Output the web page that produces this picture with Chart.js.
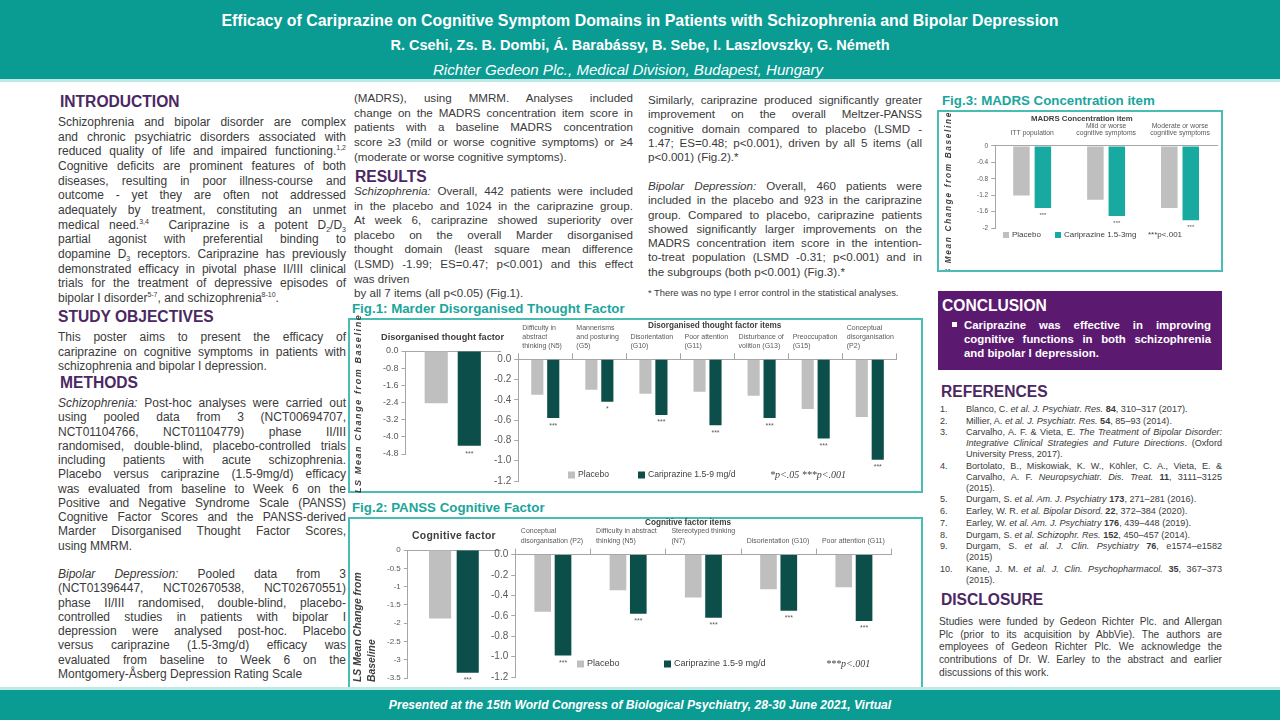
<!DOCTYPE html>
<html>
<head>
<meta charset="utf-8">
<script src="https://cdn.jsdelivr.net/npm/chart.js@4.4.1/dist/chart.umd.min.js"></script>
<style>
  body { margin: 0; width: 1280px; height: 720px; overflow: hidden; background: #fff;
         font-family: "Liberation Sans", Arial, sans-serif; color: #3a3a3a; position: relative; }
  .a { position: absolute; }
  .hdr { left: 0; top: 0; width: 1280px; height: 79px; background: #0a9b93; color: #fff; text-align: center; }
  .hdr div { position: absolute; left: 0; width: 1280px; white-space: nowrap; }
  .ftr { left: 0; top: 690px; width: 1280px; height: 30px; background: #0a9b93; color: #fff; text-align: center;
         font: italic bold 12.1px/30px "Liberation Sans", Arial, sans-serif; }
  h2 { position: absolute; margin: 0; font-size: 15.6px; line-height: 20px; color: #4b2863; font-weight: bold; }
  .txt { position: absolute; font-size: 11.6px; line-height: 14.5px; }
  .txt div { text-align: justify; text-align-last: justify; }
  .txt div.l { text-align: left; text-align-last: left; }
  sup, sub { font-size: 7px; line-height: 0; }
  .figt { position: absolute; font-size: 13.3px; font-weight: bold; color: #1ba59c; line-height: 16px; white-space: nowrap; }
  .box { position: absolute; border: 2px solid #49bdb3; box-sizing: border-box; }
  canvas { position: absolute; }
  .ct { position: absolute; font-weight: bold; color: #404040; white-space: nowrap; z-index: 2; }
  .yt { position: absolute; transform: rotate(-90deg); font-weight: bold; font-style: italic; color: #404040;
        white-space: nowrap; z-index: 2; }
  .refs { position: absolute; left: 940px; top: 404px; width: 282px; font-size: 9.1px; line-height: 10.9px; }
  .refs > div { display: flex; margin-bottom: 0.8px; }
  .refs span.n { width: 26px; flex: none; }
  .refs span.r { flex: 1; }
  .refs span.r div { text-align: justify; text-align-last: justify; }
  .refs span.r div.l { text-align: left; text-align-last: left; }
</style>
</head>
<body>

<div class="a hdr">
  <div style="top:11px;font:bold 15.9px/20px 'Liberation Sans',Arial,sans-serif;">Efficacy of Cariprazine on Cognitive Symptom Domains in Patients with Schizophrenia and Bipolar Depression</div>
  <div style="top:36px;font:bold 14.5px/18px 'Liberation Sans',Arial,sans-serif;">R. Csehi, Zs. B. Dombi, Á. Barabássy, B. Sebe, I. Laszlovszky, G. Németh</div>
  <div style="top:61px;left:-12px;font:italic 15.1px/18px 'Liberation Sans',Arial,sans-serif;">Richter Gedeon Plc., Medical Division, Budapest, Hungary</div>
</div>
<div class="a" style="left:0;top:79px;width:1280px;height:3px;background:#bfe9e5;"></div>

<!-- column 1 -->
<h2 style="left:60px;top:92px;">INTRODUCTION</h2>
<div class="txt" style="left:58px;top:115px;width:288px;font-size:12px;line-height:14.65px;">
  <div>Schizophrenia and bipolar disorder are complex</div>
  <div>and chronic psychiatric disorders associated with</div>
  <div>reduced quality of life and impaired functioning.<sup>1,2</sup></div>
  <div>Cognitive deficits are prominent features of both</div>
  <div>diseases, resulting in poor illness-course and</div>
  <div>outcome - yet they are often not addressed</div>
  <div>adequately by treatment, constituting an unmet</div>
  <div>medical need.<sup>3,4</sup>&nbsp; Cariprazine is a potent D<sub>2</sub>/D<sub>3</sub></div>
  <div>partial agonist with preferential binding to</div>
  <div>dopamine D<sub>3</sub> receptors. Cariprazine has previously</div>
  <div>demonstrated efficacy in pivotal phase II/III clinical</div>
  <div>trials for the treatment of depressive episodes of</div>
  <div class="l">bipolar I disorder<sup>5-7</sup>, and schizophrenia<sup>8-10</sup>.</div>
</div>
<h2 style="left:58px;top:307px;">STUDY OBJECTIVES</h2>
<div class="txt" style="left:58px;top:330px;width:288px;font-size:12px;">
  <div>This poster aims to present the efficacy of</div>
  <div>cariprazine on cognitive symptoms in patients with</div>
  <div class="l">schizophrenia and bipolar I depression.</div>
</div>
<h2 style="left:60px;top:373px;">METHODS</h2>
<div class="txt" style="left:58px;top:396px;width:288px;font-size:12px;line-height:14.25px;">
  <div><i>Schizophrenia:</i> Post-hoc analyses were carried out</div>
  <div>using pooled data from 3 (NCT00694707,</div>
  <div>NCT01104766, NCT01104779) phase II/III</div>
  <div>randomised, double-blind, placebo-controlled trials</div>
  <div>including patients with acute schizophrenia.</div>
  <div>Placebo versus cariprazine (1.5-9mg/d) efficacy</div>
  <div>was evaluated from baseline to Week 6 on the</div>
  <div>Positive and Negative Syndrome Scale (PANSS)</div>
  <div>Cognitive Factor Scores and the PANSS-derived</div>
  <div>Marder Disorganised Thought Factor Scores,</div>
  <div class="l">using MMRM.</div>
</div>
<div class="txt" style="left:58px;top:567px;width:288px;font-size:12px;line-height:14.3px;">
  <div><i>Bipolar Depression:</i> Pooled data from 3</div>
  <div>(NCT01396447, NCT02670538, NCT02670551)</div>
  <div>phase II/III randomised, double-blind, placebo-</div>
  <div>controlled studies in patients with bipolar I</div>
  <div>depression were analysed post-hoc. Placebo</div>
  <div>versus cariprazine (1.5-3mg/d) efficacy was</div>
  <div>evaluated from baseline to Week 6 on the</div>
  <div class="l">Montgomery-Åsberg Depression Rating Scale</div>
</div>

<!-- column 2 -->
<div class="txt" style="left:354px;top:91px;width:279px;line-height:14.7px;">
  <div>(MADRS), using MMRM. Analyses included</div>
  <div>change on the MADRS concentration item score in</div>
  <div>patients with a baseline MADRS concentration</div>
  <div>score ≥3 (mild or worse cognitive symptoms) or ≥4</div>
  <div class="l">(moderate or worse cognitive symptoms).</div>
</div>
<h2 style="left:355px;top:167px;">RESULTS</h2>
<div class="txt" style="left:354px;top:184px;width:279px;line-height:14.6px;">
  <div><i>Schizophrenia:</i> Overall, 442 patients were included</div>
  <div>in the placebo and 1024 in the cariprazine group.</div>
  <div>At week 6, cariprazine showed superiority over</div>
  <div>placebo on the overall Marder disorganised</div>
  <div>thought domain (least square mean difference</div>
  <div>(LSMD) -1.99; ES=0.47; p&lt;0.001) and this effect</div>
  <div class="l">was driven</div>
  <div class="l">by all 7 items (all p&lt;0.05) (Fig.1).</div>
</div>

<!-- column 3 -->
<div class="txt" style="left:648px;top:93px;width:274px;line-height:14.3px;">
  <div>Similarly, cariprazine produced significantly greater</div>
  <div>improvement on the overall Meltzer-PANSS</div>
  <div>cognitive domain compared to placebo (LSMD -</div>
  <div>1.47; ES=0.48; p&lt;0.001), driven by all 5 items (all</div>
  <div class="l">p&lt;0.001) (Fig.2).*</div>
</div>
<div class="txt" style="left:648px;top:179px;width:274px;line-height:14.3px;">
  <div><i>Bipolar Depression:</i> Overall, 460 patients were</div>
  <div>included in the placebo and 923 in the cariprazine</div>
  <div>group. Compared to placebo, cariprazine patients</div>
  <div>showed significantly larger improvements on the</div>
  <div>MADRS concentration item score in the intention-</div>
  <div>to-treat population (LSMD -0.31; p&lt;0.001) and in</div>
  <div class="l">the subgroups (both p&lt;0.001) (Fig.3).*</div>
</div>
<div class="a" style="left:648px;top:287px;font-size:9.4px;line-height:12px;white-space:nowrap;">* There was no type I error control in the statistical analyses.</div>

<!-- Fig 1 -->
<div class="figt" style="left:352px;top:301px;">Fig.1: Marder Disorganised Thought Factor</div>
<div class="box" style="left:348px;top:318px;width:575px;height:175px;"></div>
<canvas id="f1a" width="152" height="170" style="left:352px;top:320px;"></canvas>
<canvas id="f1b" width="442" height="170" style="left:478px;top:320px;"></canvas>
<div class="yt" style="left:273px;top:402px;width:170px;height:12px;line-height:12px;font-size:9px;letter-spacing:1.6px;text-align:center;">LS Mean Change from Baseline</div>
<div class="ct" style="left:381px;top:332px;font-size:9.2px;">Disorganised thought factor</div>
<div class="ct" style="left:648px;top:321px;font-size:8.2px;">Disorganised thought factor items</div>

<!-- Fig 2 -->
<div class="figt" style="left:352px;top:500px;">Fig.2: PANSS Cognitive Factor</div>
<div class="box" style="left:348px;top:517px;width:575px;height:172px;"></div>
<canvas id="f2a" width="152" height="167" style="left:352px;top:519px;"></canvas>
<canvas id="f2b" width="442" height="167" style="left:478px;top:519px;"></canvas>
<div class="yt" style="left:295px;top:598px;width:140px;height:28px;line-height:14px;font-size:10.4px;text-align:left;">LS Mean Change from<br>Baseline</div>
<div class="ct" style="left:412px;top:530px;font-size:10.4px;letter-spacing:0.3px;">Cognitive factor</div>
<div class="ct" style="left:645px;top:518px;font-size:8.2px;">Cognitive factor items</div>

<!-- Fig 3 -->
<div class="figt" style="left:942px;top:93px;">Fig.3: MADRS Concentration item</div>
<div class="box" style="left:937px;top:110px;width:286px;height:162px;overflow:hidden;">
  <div class="yt" style="left:-80px;top:73px;width:180px;height:12px;line-height:12px;font-size:8.2px;letter-spacing:1.7px;text-align:left;">LS Mean Change from Baseline</div>
</div>
<canvas id="f3" width="280" height="156" style="left:940px;top:112px;"></canvas>
<div class="ct" style="left:1031px;top:114px;font-size:7.8px;">MADRS Concentration item</div>

<!-- conclusion -->
<div class="a" style="left:938px;top:291px;width:284px;height:79px;background:#5b1a70;color:#fff;">
  <div class="a" style="left:4px;top:5px;font:bold 15.6px/20px 'Liberation Sans',Arial,sans-serif;">CONCLUSION</div>
  <div class="a" style="left:14px;top:31px;width:5px;height:5px;background:#fff;"></div>
  <div class="txt" style="left:26px;top:27px;width:247px;font-weight:bold;font-size:11.4px;line-height:14px;">
    <div>Cariprazine was effective in improving</div>
    <div>cognitive functions in both schizophrenia</div>
    <div class="l">and bipolar I depression.</div>
  </div>
</div>

<h2 style="left:941px;top:382px;">REFERENCES</h2>
<div class="refs">
  <div><span class="n">1.</span><span class="r"><div class="l">Blanco, C. <i>et al. J. Psychiatr. Res.</i> <b>84</b>, 310–317 (2017).</div></span></div>
  <div><span class="n">2.</span><span class="r"><div class="l">Millier, A. <i>et al. J. Psychiatr. Res.</i> <b>54</b>, 85–93 (2014).</div></span></div>
  <div><span class="n">3.</span><span class="r"><div>Carvalho, A. F. &amp; Vieta, E. <i>The Treatment of Bipolar Disorder:</i></div><div><i>Integrative Clinical Strategies and Future Directions</i>. (Oxford</div><div class="l">University Press, 2017).</div></span></div>
  <div><span class="n">4.</span><span class="r"><div>Bortolato, B., Miskowiak, K. W., Köhler, C. A., Vieta, E. &amp;</div><div>Carvalho, A. F. <i>Neuropsychiatr. Dis. Treat.</i> <b>11</b>, 3111–3125</div><div class="l">(2015).</div></span></div>
  <div><span class="n">5.</span><span class="r"><div class="l">Durgam, S. <i>et al. Am. J. Psychiatry</i> <b>173</b>, 271–281 (2016).</div></span></div>
  <div><span class="n">6.</span><span class="r"><div class="l">Earley, W. R. <i>et al. Bipolar Disord.</i> <b>22</b>, 372–384 (2020).</div></span></div>
  <div><span class="n">7.</span><span class="r"><div class="l">Earley, W. <i>et al. Am. J. Psychiatry</i> <b>176</b>, 439–448 (2019).</div></span></div>
  <div><span class="n">8.</span><span class="r"><div class="l">Durgam, S. <i>et al. Schizophr. Res.</i> <b>152</b>, 450–457 (2014).</div></span></div>
  <div><span class="n">9.</span><span class="r"><div>Durgam, S. <i>et al. J. Clin. Psychiatry</i> <b>76</b>, e1574–e1582</div><div class="l">(2015)</div></span></div>
  <div><span class="n">10.</span><span class="r"><div>Kane, J. M. <i>et al. J. Clin. Psychopharmacol.</i> <b>35</b>, 367–373</div><div class="l">(2015).</div></span></div>
</div>

<h2 style="left:941px;top:590px;">DISCLOSURE</h2>
<div class="txt" style="left:939px;top:616px;width:283px;font-size:10.2px;line-height:12.7px;">
  <div>Studies were funded by Gedeon Richter Plc. and Allergan</div>
  <div>Plc (prior to its acquisition by AbbVie). The authors are</div>
  <div>employees of Gedeon Richter Plc. We acknowledge the</div>
  <div>contributions of Dr. W. Earley to the abstract and earlier</div>
  <div class="l">discussions of this work.</div>
</div>

<div class="a" style="left:0;top:687px;width:1280px;height:3px;background:#bfe9e5;"></div>
<div class="a ftr">Presented at the 15th World Congress of Biological Psychiatry, 28-30 June 2021, Virtual</div>

<script>
// colours
const GREY = '#bfbfbf';
const DARK = '#0c4f4a';
const BRIGHT = '#18a9a1';

// Fig.1 - Marder disorganised thought factor (total)
const marderTotalLabels = [''];
const marderTotalPlacebo = [-2.43];
const marderTotalCariprazine = [-4.41];
const marderTotalSig = ['***'];

// Fig.1 - Marder items
const marderItems = [
    ['Difficulty in', 'abstract', 'thinking (N5)'],
    ['Mannerisms', 'and posturing', '(G5)'],
    ['Disorientation', '(G10)'],
    ['Poor attention', '(G11)'],
    ['Disturbance of', 'volition (G13)'],
    ['Preoccupation', '(G15)'],
    ['Conceptual', 'disorganisation', '(P2)']
];
const marderPlacebo = [-0.35, -0.30, -0.34, -0.32, -0.36, -0.49, -0.57];
const marderCariprazine = [-0.58, -0.42, -0.55, -0.65, -0.58, -0.78, -0.99];
const marderSig = ['***', '*', '***', '***', '***', '***', '***'];

// Fig.2 - PANSS cognitive factor (total)
const cogTotalLabels = [''];
const cogTotalPlacebo = [-1.87];
const cogTotalCariprazine = [-3.35];
const cogTotalSig = ['***'];

// Fig.2 - cognitive factor items
const cogItems = [
    ['Conceptual', 'disorganisation (P2)'],
    ['Difficulty in abstract', 'thinking (N5)'],
    ['Stereotyped thinking', '(N7)'],
    'Disorientation (G10)',
    'Poor attention (G11)'
];
const cogPlacebo = [-0.56, -0.35, -0.42, -0.34, -0.32];
const cogCariprazine = [-0.99, -0.58, -0.62, -0.55, -0.65];
const cogSig = ['***', '***', '***', '***', '***'];

// Fig.3 - MADRS concentration item
const madrsGroups = [['ITT population'], ['Mild or worse', 'cognitive symptoms'], ['Moderate or worse', 'cognitive symptoms']];
const madrsPlacebo = [-1.21, -1.31, -1.51];
const madrsCariprazine = [-1.51, -1.71, -1.81];
const madrsSig = ['***', '***', '***'];

Chart.defaults.font.family = '"Liberation Sans", Arial, sans-serif';
Chart.defaults.color = '#595959';

// asterisks under bars + legend drawn inside the plot
const annot = {
    id: 'annot',
    afterDatasetsDraw(chart, args, o) {
        const ctx = chart.ctx;
        ctx.save();
        ctx.fillStyle = '#595959';
        ctx.textAlign = 'center';
        ctx.textBaseline = 'top';
        ctx.font = (o.sigSize || 7) + 'px "Liberation Sans", Arial';
        chart.data.datasets.forEach((ds, i) => {
            if (!ds.sig) return;
            chart.getDatasetMeta(i).data.forEach((bar, j) => {
                if (ds.sig[j]) ctx.fillText(ds.sig[j], bar.x, bar.y + (o.sigGap || 4));
            });
        });
        if (o.legendY != null) {
            ctx.textAlign = 'left';
            ctx.textBaseline = 'middle';
            ctx.font = o.legendSize + 'px "Liberation Sans", Arial';
            chart.data.datasets.forEach((ds, i) => {
                const x = o.legendX[i];
                ctx.fillStyle = ds.backgroundColor;
                ctx.fillRect(x, o.legendY - o.box / 2, o.box, o.box);
                ctx.fillStyle = '#404040';
                ctx.fillText(ds.label, x + o.box + 3, o.legendY);
            });
            if (o.note) {
                ctx.font = o.noteFont;
                ctx.fillStyle = '#404040';
                ctx.fillText(o.note, o.noteX, o.legendY);
            }
        }
        ctx.restore();
    }
};

function makeChart(id, c) {
    const axisCol = '#a6a6a6';
    return new Chart(document.getElementById(id), {
        type: 'bar',
        data: {
            labels: c.labels,
            datasets: [
                { label: 'Placebo', data: c.placebo, backgroundColor: GREY,
                  categoryPercentage: c.cat, barPercentage: c.bar },
                { label: c.drugLabel, data: c.drug, backgroundColor: c.drugColor, sig: c.sig,
                  categoryPercentage: c.cat, barPercentage: c.bar }
            ]
        },
        options: {
            responsive: false,
            animation: false,
            layout: { padding: c.padding },
            scales: {
                x: {
                    position: 'top',
                    ticks: {
                        display: c.showLabels,
                        font: { size: c.catSize, lineHeight: c.catLine },
                        color: '#595959',
                        align: c.catAlign || 'center',
                        labelOffset: c.labelOffset || 0,
                        maxRotation: 0, autoSkip: false, padding: 3
                    },
                    grid: { display: c.catTicks, offset: true, drawOnChartArea: false, tickLength: 6, color: axisCol },
                    border: { color: axisCol }
                },
                y: {
                    min: c.min, max: 0,
                    ticks: { stepSize: c.step, font: { size: c.tickSize }, color: '#595959', padding: 3,
                             callback: c.fmt || (v => v) },
                    grid: { drawOnChartArea: false, tickLength: 4, color: axisCol },
                    border: { color: axisCol }
                }
            },
            plugins: {
                legend: { display: false },
                tooltip: { enabled: false },
                annot: c.annot || {}
            }
        },
        plugins: [annot]
    });
}

const fix1 = v => Number(v).toFixed(1);

makeChart('f1a', {
    labels: marderTotalLabels, placebo: marderTotalPlacebo, drug: marderTotalCariprazine, sig: marderTotalSig,
    drugLabel: 'Cariprazine 1.5-9 mg/d', drugColor: DARK,
    min: -4.8, step: 0.8, fmt: fix1, tickSize: 9,
    showLabels: false, catTicks: false, cat: 0.7, bar: 0.7,
    padding: { left: 28, top: 25, right: 4, bottom: 36 },
    annot: { sigGap: 5, sigSize: 7 }
});

makeChart('f1b', {
    labels: marderItems, placebo: marderPlacebo, drug: marderCariprazine, sig: marderSig,
    drugLabel: 'Cariprazine 1.5-9 mg/d', drugColor: DARK,
    min: -1.2, step: 0.2, fmt: fix1, tickSize: 10,
    showLabels: true, catTicks: true, catSize: 7, catLine: 1.25, catAlign: 'start', labelOffset: -23,
    cat: 0.59, bar: 0.76,
    padding: { left: 13, top: 1, right: 2, bottom: 2 },
    annot: { sigGap: 4, sigSize: 7, legendY: 155, legendX: [90, 160], box: 7, legendSize: 8.6,
             note: '*p<.05 ***p<.001', noteX: 292, noteFont: 'italic 10px "Liberation Serif", serif' }
});

makeChart('f2a', {
    labels: cogTotalLabels, placebo: cogTotalPlacebo, drug: cogTotalCariprazine, sig: cogTotalSig,
    drugLabel: 'Cariprazine 1.5-9 mg/d', drugColor: DARK,
    min: -3.5, step: 0.5, tickSize: 8,
    showLabels: false, catTicks: false, cat: 0.6, bar: 0.8,
    padding: { left: 32, top: 25, right: 4, bottom: 6 },
    annot: { sigGap: 4, sigSize: 7 }
});

makeChart('f2b', {
    labels: cogItems, placebo: cogPlacebo, drug: cogCariprazine, sig: cogSig,
    drugLabel: 'Cariprazine 1.5-9 mg/d', drugColor: DARK,
    min: -1.2, step: 0.2, fmt: fix1, tickSize: 10,
    showLabels: true, catTicks: true, catSize: 7, catLine: 1.4, catAlign: 'start', labelOffset: -32,
    cat: 0.54, bar: 0.82,
    padding: { left: 10, top: 4, right: 2, bottom: 6 },
    annot: { sigGap: 4, sigSize: 7, legendY: 145, legendX: [99, 186], box: 7, legendSize: 9,
             note: '***p<.001', noteX: 348, noteFont: 'italic 10px "Liberation Serif", serif' }
});

makeChart('f3', {
    labels: madrsGroups, placebo: madrsPlacebo, drug: madrsCariprazine, sig: madrsSig,
    drugLabel: 'Cariprazine 1.5-3mg', drugColor: BRIGHT,
    min: -2, step: 0.2, tickSize: 6.5,
    showLabels: true, catTicks: false, catSize: 6.8, catLine: 1.1,
    cat: 0.58, bar: 0.77,
    padding: { left: 34, top: 7, right: 3, bottom: 40 },
    annot: { sigGap: 4, sigSize: 6, legendY: 123, legendX: [63, 115], box: 6, legendSize: 8,
             note: '***p<.001', noteX: 208, noteFont: '8px "Liberation Sans", Arial' }
});
</script>
</body>
</html>
